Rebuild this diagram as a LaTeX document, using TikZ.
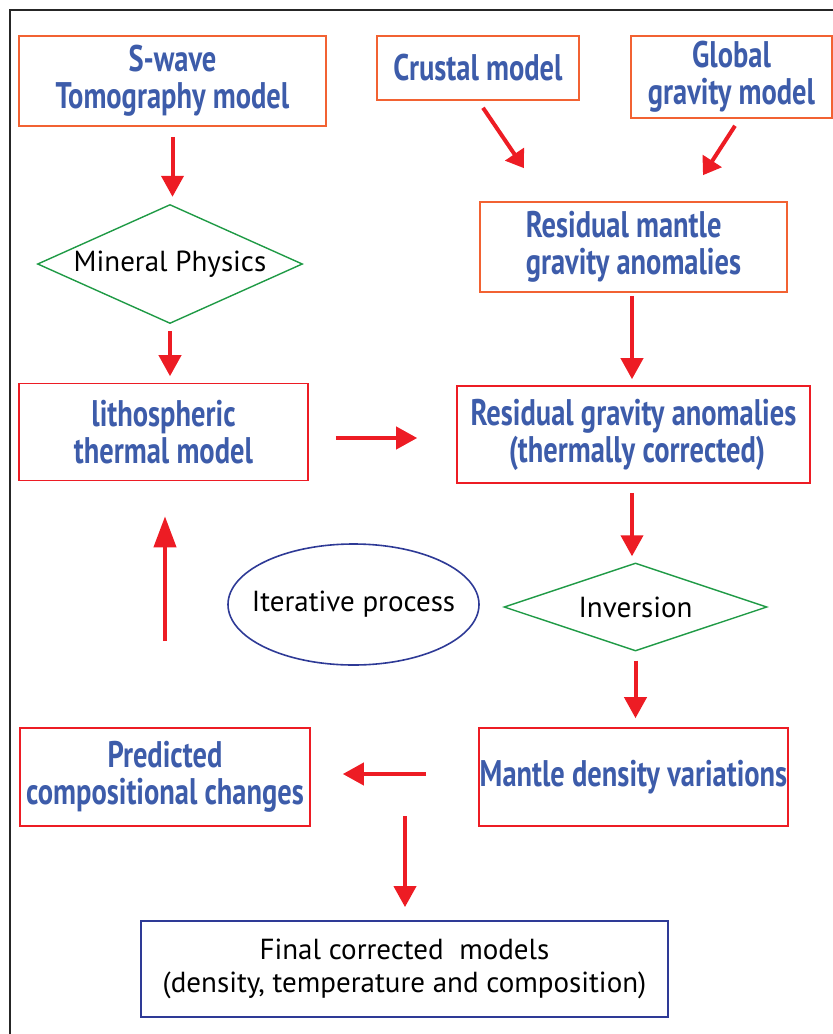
\documentclass[tikz,border=0pt]{standalone}
\usepackage{fontspec}
\setmainfont{PT Sans}
\newfontfamily\boxfont[FakeStretch=0.77]{PT Sans}
\usetikzlibrary{arrows.meta,shapes.geometric}
\definecolor{boxorange}{HTML}{F26232}
\definecolor{boxred}{HTML}{ED1C24}
\definecolor{flowred}{HTML}{ED1C24}
\definecolor{decgreen}{HTML}{1F9A45}
\definecolor{loopblue}{HTML}{2E3A96}
\definecolor{txtblue}{HTML}{3D5CAA}
\tikzset{
  topbox/.style={draw=boxorange,line width=1.6pt,align=center,text=txtblue,
    font=\boxfont\bfseries\fontsize{37}{37}\selectfont,inner sep=0pt},
  redbox/.style={topbox,draw=boxred},
  decision/.style={diamond,draw=decgreen,line width=1.4pt,inner sep=0pt,
    font=\fontsize{29}{33}\selectfont},
  flow/.style={draw=flowred,line width=4pt,-{Triangle[length=21pt,width=22pt]}},
}
\begin{document}
\begin{tikzpicture}[x=1pt,y=-1pt]
\useasboundingbox (0,0) rectangle (833,1034);
\draw [line width=2pt,black!85] (10,1034) -- (10,10) -- (833,10);
\node [topbox,minimum width=307,minimum height=90] (swave) at (172.5,81) {S-wave\\Tomography model};
\node [topbox,minimum width=202,minimum height=64] (crustal) at (478,68) {Crustal model};
\node [topbox,minimum width=201,minimum height=82] (globalg) at (731.5,77) {Global\\gravity model};
\node [decision,minimum width=265,minimum height=119] (mineral) at (170,264) {\makebox[0pt]{Mineral Physics}};
\node [topbox,align=left,minimum width=307,minimum height=90] (resmantle) at (633.5,247) {Residual mantle\\gravity anomalies};
\node [redbox,minimum width=289,minimum height=97] (litho) at (163.5,432) {lithospheric\\thermal model};
\node [redbox,minimum width=353,minimum height=97] (resgrav) at (633.5,434.5) {Residual gravity anomalies\\\ (thermally corrected)};
\node [ellipse,draw=loopblue,line width=1.6pt,minimum width=251,minimum height=121,inner sep=0pt,
  font=\fontsize{29}{33}\selectfont] (iter) at (353.5,604.5) {\makebox[0pt]{Iterative process}};
\node [decision,minimum width=263,minimum height=88] (inversion) at (635.5,607) {\makebox[0pt]{Inversion}};
\node [redbox,minimum width=290,minimum height=98] (predicted) at (165,777) {Predicted\\compositional changes};
\node [redbox,minimum width=309,minimum height=98] (mantle) at (633.5,777) {Mantle density variations};
\node [draw=loopblue,line width=1.8pt,align=center,inner sep=0pt,minimum width=527,minimum height=96,
  font=\fontsize{29}{33}\selectfont] (final) at (404.5,969) {Final corrected\ \ models\\(density, temperature and composition)};
\coordinate (split) at (405,816);
\draw [flow,shorten <=10pt,shorten >=7pt] (swave.south) -- (swave.south |- mineral.north);
\draw [flow,-{Triangle[length=17pt,width=22pt]}] ([shift={(5,7)}]crustal.south) -- ([shift={(-109.5,-33)}]resmantle.north);
\draw [flow,-{Triangle[length=17pt,width=22pt]}] ([shift={(3.5,7)}]globalg.south) -- ([shift={(69.5,-26)}]resmantle.north);
\draw [flow,shorten <=7pt,shorten >=6.5pt] (mineral.south) -- (mineral.south |- litho.north);
\draw [flow,shorten <=3pt,shorten >=6pt] ([xshift=-1.5]resmantle.south) -- ([xshift=-1.5]resmantle.south |- resgrav.north);
\draw [flow,shorten <=27pt,shorten >=39pt] ([yshift=-6]litho.east) -- ([yshift=-6]litho.east -| resgrav.west);
\draw [flow,shorten <=9pt,shorten >=6pt] ([xshift=-1.5]resgrav.south) -- ([xshift=-1.5]resgrav.south |- inversion.north);
\draw [flow,shorten <=9pt,shorten >=9pt] (inversion.south) -- (inversion.south |- mantle.north);
\draw [flow,shorten <=52pt,shorten >=32pt] ([yshift=3]mantle.west) -- ([yshift=3]mantle.west -| predicted.east);
\draw [flow,shorten >=13pt] (split) -- (split |- final.north);
\draw [flow,-{Triangle[length=31pt,width=22pt]},shorten <=86pt,shorten >=35pt] (predicted.north) -- (predicted.north |- litho.south);
\end{tikzpicture}
\end{document}
